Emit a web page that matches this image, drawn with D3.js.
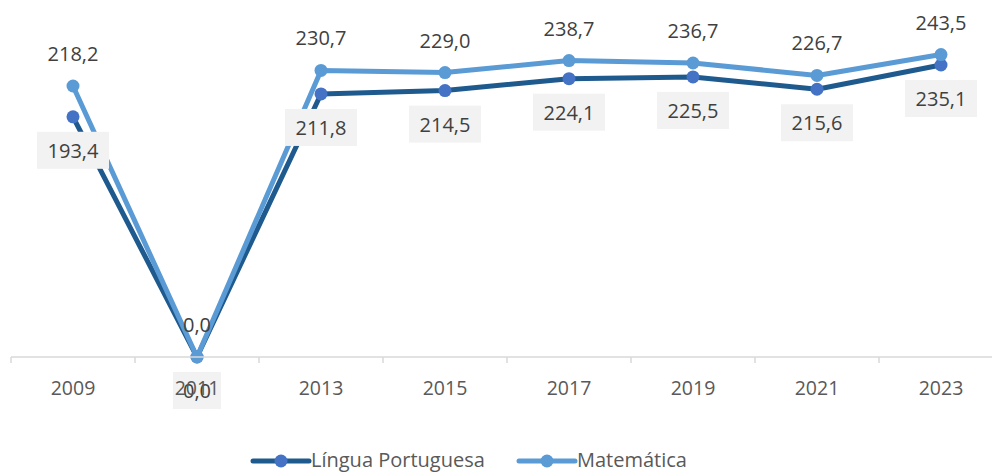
<!DOCTYPE html>
<html>
<head>
<meta charset="utf-8">
<script src="https://cdn.jsdelivr.net/npm/d3@7"></script>
<style>
  body { margin: 0; background: #fff; }
  svg { display: block; font-family: "Open Sans", sans-serif; }
</style>
</head>
<body>
<svg></svg>
<script>
const years = ['2009', '2011', '2013', '2015', '2017', '2019', '2021', '2023']
const portugues = [193.4, 0.0, 211.8, 214.5, 224.1, 225.5, 215.6, 235.1]
const matematica = [218.2, 0.0, 230.7, 229.0, 238.7, 236.7, 226.7, 243.5]
const seriesNames = ['Língua Portuguesa', 'Matemática']

const
    svgWidth = 992,
    svgHeight = 473,
    AXIS_Y = 357,
    LEFT = 11,
    RIGHT = 1003

const svg = d3.select('svg')
    .attr('width', svgWidth)
    .attr('height', svgHeight)

const x = d3.scaleBand()
    .domain(years)
    .range([LEFT, RIGHT])

const y = d3.scaleLinear()
    .domain([0, 250])
    .range([AXIS_Y, AXIS_Y - 250 * 1.242])

const fmt = v => d3.format('.1f')(v).replace('.', ',')
const cx = d => x(d) + x.bandwidth() / 2

// x axis line + ticks between categories
const axis = svg.append('g')
axis.append('line')
    .attr('x1', LEFT).attr('x2', svgWidth)
    .attr('y1', AXIS_Y).attr('y2', AXIS_Y)
    .attr('stroke', '#d9d9d9').attr('stroke-width', 1.5)
axis.selectAll('.tick')
    .data(years)
    .enter().append('line')
    .attr('x1', d => x(d)).attr('x2', d => x(d))
    .attr('y1', AXIS_Y).attr('y2', AXIS_Y + 6)
    .attr('stroke', '#d9d9d9').attr('stroke-width', 1.5)

const series = [
    { name: seriesNames[0], values: portugues, line: '#1f5a8e', dot: '#4472c4' },
    { name: seriesNames[1], values: matematica, line: '#5b9bd5', dot: '#5b9bd5' }
]

const line = d3.line()
    .x(d => cx(d.year))
    .y(d => y(d.v))

series.forEach(s => {
    const pts = years.map((yr, i) => ({ year: yr, v: s.values[i] }))
    svg.append('path')
        .datum(pts)
        .attr('d', line)
        .attr('fill', 'none')
        .attr('stroke', s.line)
        .attr('stroke-width', 5)
        .attr('stroke-linejoin', 'round')
    svg.append('g').selectAll('circle')
        .data(pts)
        .enter().append('circle')
        .attr('cx', d => cx(d.year))
        .attr('cy', d => y(d.v))
        .attr('r', 6.5)
        .attr('fill', s.dot)
})

// Matemática labels above
svg.append('g').selectAll('text')
    .data(years)
    .enter().append('text')
    .attr('x', d => cx(d))
    .attr('y', (d, i) => y(matematica[i]) - 25)
    .attr('text-anchor', 'middle')
    .attr('font-size', 20)
    .attr('fill', '#404040')
    .text((d, i) => fmt(matematica[i]))

// Português labels below in boxes
const pl = svg.append('g').selectAll('g')
    .data(years)
    .enter().append('g')
    .attr('transform', (d, i) => `translate(${cx(d)},${y(portugues[i]) + 34})`)
pl.append('rect')
    .attr('x', (d, i) => portugues[i] === 0 ? -24 : -36)
    .attr('y', -19)
    .attr('width', (d, i) => portugues[i] === 0 ? 48 : 72)
    .attr('height', 37)
    .attr('fill', '#f2f2f2')
pl.append('text')
    .attr('text-anchor', 'middle')
    .attr('dy', 7)
    .attr('font-size', 20)
    .attr('fill', '#404040')
    .text((d, i) => fmt(portugues[i]))

// category labels (drawn last, over the 0,0 box as in the original)
axis.selectAll('.lbl')
    .data(years)
    .enter().append('text')
    .attr('x', d => cx(d))
    .attr('y', AXIS_Y + 38)
    .attr('text-anchor', 'middle')
    .attr('font-size', 19.5)
    .attr('fill', '#595959')
    .text(d => d)
axis.raise()

// legend
const legend = svg.append('g')
const lx = [253, 519]
series.forEach((s, i) => {
    const g = legend.append('g').attr('transform', `translate(${lx[i]},461)`)
    g.append('line')
        .attr('x1', 0).attr('x2', 56)
        .attr('stroke', s.line).attr('stroke-width', 5)
        .attr('stroke-linecap', 'round')
    g.append('circle').attr('cx', 28).attr('r', 6.5).attr('fill', s.dot)
    g.append('text')
        .attr('x', 58).attr('dy', 6)
        .attr('font-size', 20)
        .attr('fill', '#595959')
        .text(s.name)
})
</script>
</body>
</html>
